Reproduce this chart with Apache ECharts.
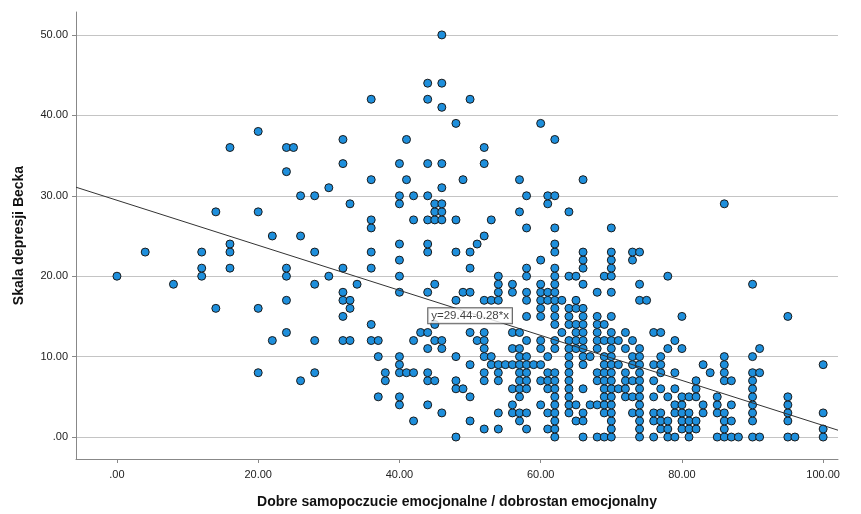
<!DOCTYPE html>
<html>
<head>
<meta charset="utf-8">
<script src="https://cdn.jsdelivr.net/npm/echarts@6/dist/echarts.min.js"></script>
<style>html,body{margin:0;padding:0;background:#fff}#c{width:861px;height:514px}</style>
</head>
<body>
<div id="c"></div>
<script>
// Points grouped by Beck score (y); each array lists wellbeing values (x)
const wellbeingByBeck = {
  50:[46], 44:[44,46], 42:[36,44,50], 41:[46], 39:[48,60], 38:[20], 37:[32,41,62],
  36:[16,24,25,52], 34:[32,40,44,46,52], 33:[24], 32:[36,41,49,57,66], 31:[30,46],
  30:[26,28,40,42,44,58,61,62], 29:[33,40,45,46,61,86], 28:[14,20,45,46,57,64],
  27:[36,42,44,45,46,48,53], 26:[36,58,62,70], 25:[22,26,52], 24:[16,40,44,51,62],
  23:[4,12,16,28,36,44,48,50,62,66,70,73,74], 22:[40,60,66,70,73],
  21:[12,16,24,32,36,50,58,62,66,70], 20:[0,12,24,30,40,54,58,62,64,65,69,70,78],
  19:[8,28,34,45,54,56,60,62,66,74,90], 18:[32,40,44,49,50,54,56,58,60,61,62,68,70],
  17:[24,32,33,48,52,53,54,58,60,61,62,63,65,74,75], 16:[14,20,33,60,62,64,65,66],
  15:[32,58,60,62,64,66,68,70,80,95], 14:[36,45,62,64,65,66,68,69],
  13:[24,43,44,50,52,56,57,63,65,66,68,70,72,76,77],
  12:[22,28,32,33,36,37,42,45,46,51,52,58,60,62,64,65,66,68,69,70,71,73,79],
  11:[44,46,52,56,57,60,62,64,65,66,68,70,72,74,78,80,91],
  10:[37,40,48,52,53,57,58,61,64,66,67,69,70,73,74,77,86,90],
  9:[40,50,53,54,55,56,57,58,59,60,64,66,69,70,71,73,74,76,77,83,86,100],
  8:[20,28,38,40,41,42,44,52,54,57,58,61,62,64,68,69,70,72,74,77,79,84,86,90,91],
  7:[26,38,44,45,48,52,54,57,58,60,61,62,64,68,69,70,72,73,74,76,82,86,87,90],
  6:[48,49,56,57,58,61,62,64,66,69,70,71,72,74,77,79,82,90],
  5:[37,40,50,57,62,64,69,70,72,73,74,76,78,80,81,82,85,90,95],
  4:[40,44,56,60,62,64,65,67,68,69,70,74,79,80,83,85,87,90,95],
  3:[46,54,56,57,58,61,62,64,66,69,70,73,74,76,77,79,80,81,83,85,86,90,95,100],
  2:[42,50,57,62,65,66,70,74,76,77,78,80,81,82,86,87,90,95],
  1:[52,54,58,61,62,70,74,77,78,80,81,82,86,100],
  0:[48,62,66,68,69,70,74,76,78,79,81,85,86,87,88,90,91,95,96,100]
};
const xTicks = [0,20,40,60,80,100];
const yTicks = [0,10,20,30,40,50];
const intercept = 29.44;
const slope = -0.28;
const fitLabel = 'y=29.44-0.28*x';
const xMin = -5.8, xMax = 102.1, yMin = -2.73, yMax = 52.85;

const points = [];
Object.keys(wellbeingByBeck).forEach(k => {
  wellbeingByBeck[k].forEach(x => points.push([x, Number(k)]));
});
const fmt = v => v === 0 ? '.00' : v.toFixed(2);
const fit = x => intercept + slope * x;

const chart = echarts.init(document.getElementById('c'), null, {renderer:'canvas'});
chart.setOption({
  animation:false,
  backgroundColor:'#ffffff',
  grid:{left:76, right:23, top:12, bottom:54, containLabel:false},
  xAxis:{
    type:'value', min:xMin, max:xMax,
    name:'Dobre samopoczucie emocjonalne / dobrostan emocjonalny',
    nameLocation:'middle', nameGap:36,
    nameTextStyle:{fontFamily:'Liberation Sans', fontWeight:'bold', fontSize:14, color:'#111'},
    axisLine:{show:true, onZero:false, lineStyle:{color:'#888', width:1}},
    axisTick:{show:true, length:4, customValues:xTicks, lineStyle:{color:'#888'}},
    axisLabel:{customValues:xTicks, formatter:fmt, fontFamily:'Liberation Sans', fontSize:11, color:'#222', margin:10},
    splitLine:{show:false}
  },
  yAxis:{
    type:'value', min:yMin, max:yMax,
    name:'Skala depresji Becka',
    nameLocation:'middle', nameGap:50, nameRotate:90,
    nameTextStyle:{fontFamily:'Liberation Sans', fontWeight:'bold', fontSize:14, color:'#111'},
    axisLine:{show:true, onZero:false, lineStyle:{color:'#888', width:1}},
    axisTick:{show:true, length:4, customValues:yTicks, lineStyle:{color:'#888'}},
    axisLabel:{customValues:yTicks, formatter:fmt, fontFamily:'Liberation Sans', fontSize:11, color:'#222', margin:8},
    splitLine:{show:true, lineStyle:{color:'#c4c4c4', width:1}}
  },
  series:[
    {
      type:'line', data:[[xMin, fit(xMin)],[xMax, fit(xMax)]],
      symbol:'none', lineStyle:{color:'#333', width:1}, z:3, silent:true
    },
    {
      type:'scatter', data:points, symbol:'circle', symbolSize:8,
      itemStyle:{color:'#1e8fdc', borderColor:'#1a1a1a', borderWidth:1, opacity:1}, z:2
    },
    {
      type:'scatter', data:[[50, fit(50)]], symbolSize:1,
      itemStyle:{color:'transparent', borderWidth:0}, z:5,
      label:{show:true, position:'inside', formatter:fitLabel, fontFamily:'Liberation Sans', fontSize:11.5,
        color:'#111', backgroundColor:'#fff', borderColor:'#333', borderWidth:1, padding:[2,3,1,3], offset:[0,3]}
    }
  ]
});
</script>
</body>
</html>
